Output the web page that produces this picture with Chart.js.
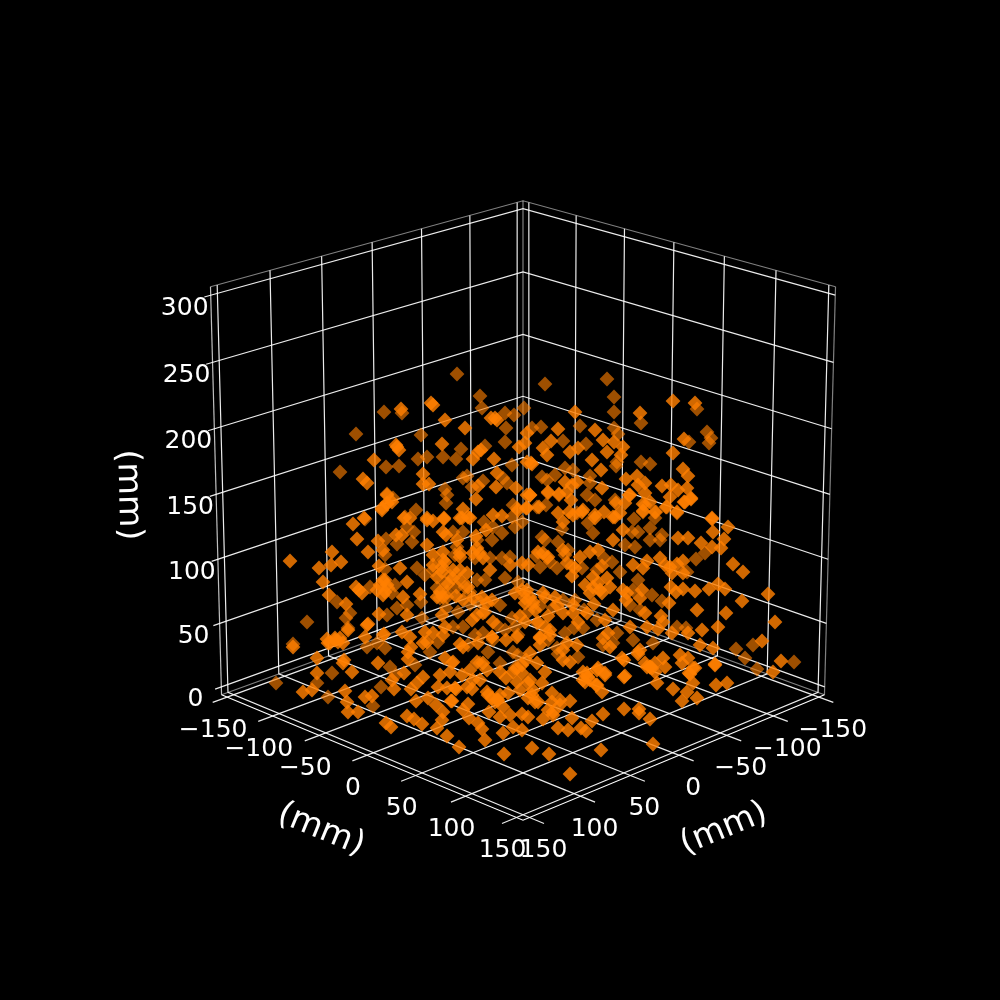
<!DOCTYPE html>
<html>
<head>
<meta charset="utf-8">
<title>3D scatter</title>
<script src="https://cdn.jsdelivr.net/npm/chart.js@4"></script>
<style>
html,body{margin:0;padding:0;background:#000;}
canvas{display:block;}
</style>
</head>
<body>
<canvas id="chart" width="1000" height="1000"></canvas>
<script>
// tick values in mm
const planTicks = [-150, -100, -50, 0, 50, 100, 150];
const heightTicks = [0, 50, 100, 150, 200, 250, 300];
const unitLabel = "(mm)";

// the picture only shows each point after projection, its depth can't be read back,
// so points are kept as [across, down] read on the picture plane (0-1000 view axes)
// points further from the viewer, shaded darker
const farPoints = [
[457,374],[545,384],[607,379],[614,397],[480,396],[482,408],[505,413],[514,415],[524,408],[356,434],[384,412],[402,413],
[421,435],[506,428],[505,442],[456,459],[418,459],[427,457],[399,466],[443,457],[461,449],[485,446],[512,465],[340,472],
[386,467],[541,427],[532,428],[563,441],[586,444],[580,426],[614,428],[618,434],[641,423],[641,462],[614,412],[697,409],
[707,432],[709,443],[711,438],[689,442],[555,475],[542,477],[547,480],[565,468],[573,470],[590,476],[590,483],[616,466],
[617,462],[650,464],[463,478],[467,476],[472,487],[483,481],[507,483],[503,478],[512,517],[513,505],[517,508],[445,489],
[447,495],[446,503],[387,494],[393,498],[416,510],[405,517],[365,519],[386,539],[412,542],[414,532],[407,527],[397,544],
[385,569],[385,555],[417,568],[425,575],[433,570],[348,628],[350,613],[346,618],[387,615],[367,647],[377,643],[385,648],
[383,635],[307,622],[276,683],[293,644],[328,697],[332,673],[317,683],[373,706],[381,687],[390,667],[396,675],[415,665],
[430,652],[438,642],[515,527],[493,527],[562,529],[588,523],[453,532],[463,532],[542,537],[545,540],[558,542],[593,533],
[568,550],[565,555],[634,519],[656,512],[655,518],[638,532],[632,532],[650,528],[662,535],[660,540],[650,540],[635,547],
[625,545],[677,513],[667,507],[643,512],[645,505],[696,559],[705,553],[687,572],[652,595],[662,601],[677,627],[686,628],
[630,605],[640,610],[638,580],[633,590],[753,645],[736,649],[745,658],[794,662],[757,669],[653,643],[638,652],[633,640],
[548,493],[559,495],[587,495],[595,500],[615,500],[537,507],[546,505],[577,513],[502,533],[492,540],[457,547],[477,540],
[490,558],[475,558],[455,555],[502,558],[510,557],[547,558],[550,562],[557,568],[540,567],[582,568],[597,570],[477,580],
[485,580],[505,578],[518,582],[465,587],[457,587],[480,602],[500,605],[533,605],[563,600],[575,600],[553,608],[485,612],
[497,625],[515,627],[537,623],[565,633],[463,627],[453,627],[475,635],[518,635],[492,637],[505,630],[583,628],[597,620],
[468,645],[483,633],[493,640],[513,652],[518,655],[548,640],[557,648],[578,657],[603,645],[613,643],[617,633],[452,663],
[480,663],[500,663],[515,668],[422,618],[407,605],[397,608],[421,602],[440,598],[447,597],[445,583],[437,588],[388,588],
[395,585],[392,593],[370,587],[337,602],
[450,576],[447,592],[470,592],[484,522],[522,522],[536,556],[572,566],[604,558],[528,612],[512,618],[488,652],[558,654],
[574,628],[584,610],[540,606],[470,604],[458,612],[446,608],[620,572],[612,562]
];

// points nearer the viewer, full orange
const nearPoints = [
[431,403],[433,405],[401,409],[445,420],[465,428],[442,444],[495,418],[491,418],[497,420],[397,447],[399,450],[396,445],
[478,452],[481,450],[473,459],[494,459],[519,447],[525,443],[527,433],[527,462],[532,464],[374,460],[363,479],[367,483],
[423,474],[429,484],[423,484],[497,473],[496,487],[516,488],[478,486],[476,499],[463,509],[382,508],[387,503],[427,518],
[444,518],[460,518],[468,517],[493,515],[502,516],[527,495],[527,508],[364,518],[673,401],[695,403],[640,413],[575,412],
[558,429],[595,430],[551,441],[543,448],[547,455],[570,452],[578,448],[603,440],[607,452],[614,442],[623,447],[621,455],
[684,439],[673,453],[592,460],[531,463],[601,470],[683,469],[688,476],[626,479],[637,476],[645,483],[638,485],[577,482],
[572,485],[565,482],[662,486],[671,485],[678,490],[687,488],[602,488],[548,492],[559,494],[530,495],[567,492],[629,495],
[645,493],[691,499],[684,502],[670,497],[643,504],[650,502],[625,503],[616,503],[571,500],[539,507],[526,508],[558,513],
[582,512],[573,515],[604,512],[595,515],[643,511],[666,507],[677,512],[712,518],[620,513],[613,517],[712,519],[728,527],
[713,532],[724,539],[721,548],[712,547],[701,543],[678,538],[688,538],[733,564],[743,572],[683,561],[677,564],[683,573],
[660,558],[665,565],[670,567],[672,573],[647,561],[643,568],[633,565],[718,584],[725,589],[709,589],[695,591],[683,589],
[676,592],[671,587],[768,594],[742,601],[697,610],[726,613],[669,603],[775,622],[718,627],[702,630],[688,633],[672,633],
[663,622],[661,616],[658,629],[647,627],[762,641],[781,661],[773,672],[713,648],[700,645],[715,664],[695,668],[690,674],
[680,655],[688,658],[682,663],[663,658],[665,667],[650,667],[645,663],[655,663],[655,672],[630,627],[625,676],[624,660],
[645,613],[640,598],[642,590],[623,590],[627,593],[623,530],[655,512],[685,502],[691,498],[630,495],[290,561],[319,568],
[332,552],[331,565],[341,562],[323,582],[353,524],[357,539],[368,552],[378,541],[383,550],[379,566],[396,535],[402,535],
[404,518],[410,518],[382,510],[387,504],[392,502],[387,495],[427,520],[433,521],[444,519],[443,532],[446,535],[400,568],
[407,582],[427,545],[433,555],[443,552],[443,560],[445,562],[356,587],[359,590],[362,593],[380,585],[385,580],[383,595],
[329,595],[346,604],[367,625],[368,624],[365,637],[379,614],[403,597],[407,615],[420,594],[442,615],[384,634],[402,632],
[410,637],[425,632],[433,633],[445,627],[443,635],[470,518],[462,518],[518,510],[530,495],[569,512],[583,510],[595,518],
[615,517],[563,522],[477,548],[480,553],[460,557],[522,563],[528,565],[538,552],[567,563],[580,557],[590,552],[598,550],
[613,540],[460,570],[467,573],[453,570],[490,570],[510,565],[572,576],[585,585],[593,587],[602,593],[607,578],[610,587],
[473,598],[492,600],[515,593],[527,590],[525,598],[545,597],[555,597],[587,613],[573,613],[563,613],[613,610],[605,620],
[477,615],[525,622],[550,630],[540,637],[608,633],[570,774],[504,754],[532,748],[549,754],[601,750],[459,747],[485,740],
[624,709],[639,713],[639,709],[603,714],[592,721],[586,731],[581,728],[568,730],[572,718],[570,701],[560,700],[624,677],
[650,719],[653,744],[522,730],[543,719],[528,717],[522,714],[503,733],[513,727],[558,728],[553,715],[548,710],[500,717],
[510,715],[482,729],[478,723],[469,718],[463,710],[468,704],[489,712],[452,701],[487,692],[497,700],[508,693],[503,707],
[492,698],[528,698],[538,702],[533,690],[552,693],[552,702],[560,705],[542,683],[528,683],[472,689],[473,680],[456,689],
[470,670],[487,670],[506,678],[522,673],[530,680],[517,682],[460,644],[530,653],[537,663],[545,672],[540,645],[563,660],
[570,662],[577,645],[583,672],[590,680],[597,670],[605,675],[602,692],[622,658],[638,654],[647,667],[293,647],[317,658],
[317,673],[352,672],[303,692],[312,690],[345,691],[347,702],[348,712],[358,712],[365,697],[372,696],[394,689],[378,663],
[392,680],[404,673],[408,659],[411,647],[423,643],[445,658],[423,677],[417,683],[411,689],[428,698],[416,701],[440,675],
[450,672],[438,687],[447,688],[455,688],[451,701],[436,705],[407,716],[414,719],[422,724],[386,723],[391,727],[437,728],
[442,720],[447,736],[443,712],[344,660],[343,663],[328,643],[338,642],[343,643],[348,630],[335,638],[327,639],[340,638],
[657,683],[716,685],[727,683],[673,689],[682,701],[687,692],[697,698],[693,683],[689,673],[693,668],[715,665],[652,668],
[605,673],[598,668],[585,682],[588,677],[596,685],
[498,700],[517,668],[513,672],[522,665],[495,702],[500,695],[535,702],[532,695],[553,712],[478,643],[463,647],[492,637],
[517,637],[540,638],[550,635],[567,643],[563,650],[603,638],[610,647],[640,650],[650,667],[587,673],[597,685],[583,680],
[483,663],[477,662],[453,662],[467,687],[488,695],[460,553],[457,540],[473,553],[483,558],[468,587],[460,580],[453,578],
[482,597],[487,603],[522,590],[530,597],[533,602],[543,593],[548,557],[543,553],[563,550],[593,577],[598,583],[590,593],
[600,590],[557,605],[573,605],[483,613],[493,622],[538,622],[545,627],[472,620],[525,603],[383,580],[387,585],[377,590],
[385,592],[440,592],[443,597],[437,597],[442,567],[433,565],[437,577],[330,643],[335,640],[427,642],[408,652],
[448,584],[456,596],[463,600],[442,572],[476,536],[486,530],[520,616],[506,640],[500,672],[526,660],[520,690],[535,610],
[548,616],[578,622],[594,604],[575,568],[602,566],[626,600],[480,680],[462,675]
];

const xLim = 156.25;
const zLim = [-6.25, 306.25];
const elev = 20 * Math.PI / 180;

// camera looks from the +x +y corner
function project(x, y, z) {
    const nx = x / xLim, ny = y / xLim, nz = (z - 150) / xLim;
    const across = (ny - nx) / Math.SQRT2;
    const toward = (nx + ny) / Math.SQRT2;
    const up = nz * Math.cos(elev) - toward * Math.sin(elev);
    const w = toward * Math.cos(elev) + nz * Math.sin(elev);
    const s = 4123 / (19 - w);
    return { x: 523 + across * s, y: 494.4 - up * s };
}

function path(points, color) {
    return {
        type: "line",
        data: points.map(p => project(p[0], p[1], p[2])),
        borderColor: color,
        borderWidth: 1.2,
        pointRadius: 0,
        fill: false,
        order: 3
    };
}

const [zMin, zMax] = zLim;
const GRID = "rgba(255,255,255,0.92)";
const PANE = "rgba(255,255,255,0.5)";
const lineSets = [];

planTicks.forEach(t => {
    lineSets.push(path([[t, xLim + 14, zMin], [t, -xLim, zMin], [t, -xLim, zMax]], GRID));
    lineSets.push(path([[xLim + 14, t, zMin], [-xLim, t, zMin], [-xLim, t, zMax]], GRID));
});
heightTicks.forEach(t => {
    lineSets.push(path([[xLim + 6, -xLim, t], [-xLim, -xLim, t], [-xLim, xLim, t]], GRID));
});
// pane outlines
lineSets.push(path([[xLim, -xLim, zMax], [-xLim, -xLim, zMax], [-xLim, xLim, zMax]], PANE));
lineSets.push(path([[xLim, -xLim, zMin], [-xLim, -xLim, zMin], [-xLim, xLim, zMin]], PANE));
lineSets.push(path([[-xLim, xLim, zMin], [-xLim, xLim, zMax]], PANE));
lineSets.push(path([[-xLim, -xLim, zMin], [-xLim, -xLim, zMax]], PANE));
// axis lines
lineSets.push(path([[xLim, -xLim, zMin], [xLim, xLim, zMin], [-xLim, xLim, zMin]], "#fff"));
lineSets.push(path([[xLim, -xLim, zMin], [xLim, -xLim, zMax]], "rgba(255,255,255,0.75)"));

function scatterSet(points, color, order) {
    return {
        type: "scatter",
        data: points.map(p => ({ x: p[0], y: p[1] })),
        pointStyle: "rectRot",
        pointRadius: 7.4,
        pointBorderWidth: 0,
        pointBackgroundColor: color,
        order: order
    };
}

function tickText(v) {
    return String(v).replace("-", "\u2212");
}

const axisText = {
    id: "axisText",
    afterDraw(chart) {
        const ctx = chart.ctx;
        const sx = chart.scales.x, sy = chart.scales.y;
        ctx.save();
        ctx.fillStyle = "#fff";
        ctx.textAlign = "center";
        ctx.textBaseline = "middle";
        ctx.font = "25px 'DejaVu Sans'";
        planTicks.forEach(t => {
            const a = project(xLim, t, zMin);
            ctx.fillText(tickText(t), sx.getPixelForValue(a.x) - 14, sy.getPixelForValue(a.y) + 33);
            const b = project(t, xLim, zMin);
            ctx.fillText(tickText(t), sx.getPixelForValue(b.x) + 14, sy.getPixelForValue(b.y) + 33);
        });
        heightTicks.forEach(t => {
            const c = project(xLim, -xLim, t);
            ctx.fillText(tickText(t), sx.getPixelForValue(c.x) - 26, sy.getPixelForValue(c.y) + 13);
        });
        ctx.font = "33.3px 'DejaVu Sans'";
        [[321, 830, 22.4], [724, 829, -22.4], [128, 495, 88.3]].forEach(l => {
            ctx.save();
            ctx.translate(l[0], l[1]);
            ctx.rotate(l[2] * Math.PI / 180);
            ctx.fillText(unitLabel, 0, 0);
            ctx.restore();
        });
        ctx.restore();
    }
};

new Chart(document.getElementById("chart"), {
    type: "scatter",
    data: {
        datasets: lineSets.concat([
            scatterSet(farPoints, "rgba(255,127,0,0.62)", 2),
            scatterSet(nearPoints, "rgba(255,127,0,0.82)", 1)
        ])
    },
    options: {
        responsive: false,
        animation: false,
        layout: { padding: 0, autoPadding: false },
        plugins: { legend: { display: false }, tooltip: { enabled: false } },
        scales: {
            x: { type: "linear", display: false, min: 0, max: 1000 },
            y: { type: "linear", display: false, min: 0, max: 1000, reverse: true }
        }
    },
    plugins: [axisText]
});
</script>
</body>
</html>
